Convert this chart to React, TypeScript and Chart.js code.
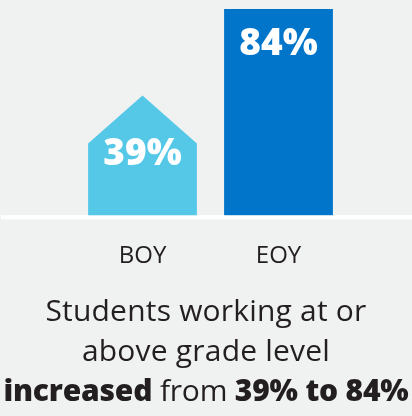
import React, { useEffect, useRef } from "react";
import { Chart, registerables } from "chart.js";

Chart.register(...registerables);

const categories = ["BOY", "EOY"];
const values = [39, 84];
const barColors = ["#55c8e8", "#0075c9"];
const captionLine1 = "Students working at or";
const captionLine2 = "above grade level";
const captionBold1 = "increased";
const captionMid = " from ";
const captionBold2 = "39% to 84%";

const BG = "#f0f2f1";
const TEXT = "#231f20";
const FONT = "'Open Sans', 'DejaVu Sans', sans-serif";

const housePlugin = {
  id: "houseBars",
  beforeDatasetsDraw(chart: any) {
    const { ctx, chartArea } = chart;
    ctx.save();
    ctx.fillStyle = "#ffffff";
    ctx.fillRect(1, chartArea.bottom, chart.width - 1, 4);
    ctx.restore();
  },
  afterDatasetsDraw(chart: any) {
    const { ctx } = chart;
    const meta = chart.getDatasetMeta(0);
    meta.data.forEach((bar: any, i: number) => {
      const { x, y, base, width } = bar.getProps(["x", "y", "base", "width"], true);
      const left = x - width / 2;
      const right = x + width / 2;
      ctx.save();
      ctx.fillStyle = barColors[i];
      if (i === 0) {
        const h = width * 0.22;
        ctx.beginPath();
        ctx.moveTo(left, base);
        ctx.lineTo(left, y + h);
        ctx.lineTo(x, y - h);
        ctx.lineTo(right, y + h);
        ctx.lineTo(right, base);
        ctx.closePath();
        ctx.fill();
      } else {
        ctx.fillRect(left, y, width, base - y);
      }
      ctx.fillStyle = "#ffffff";
      ctx.font = `800 37px ${FONT}`;
      ctx.textAlign = "center";
      ctx.textBaseline = "middle";
      ctx.fillText(values[i] + "%", x, y + 35);
      ctx.restore();
    });
  },
};

export default function App() {
  const ref = useRef<HTMLCanvasElement | null>(null);
  useEffect(() => {
    if (!ref.current) return;
    const chart = new Chart(ref.current, {
      type: "bar",
      data: {
        labels: categories,
        datasets: [
          {
            data: values,
            backgroundColor: "rgba(0,0,0,0)",
            barPercentage: 0.8,
            categoryPercentage: 1,
          },
        ],
      },
      options: {
        animation: false,
        responsive: false,
        maintainAspectRatio: false,
        layout: { padding: { top: 9, left: 74.5, right: 65.5, bottom: 0 } },
        plugins: { legend: { display: false }, tooltip: { enabled: false } },
        scales: {
          x: {
            grid: { display: false, drawTicks: false },
            border: { display: false },
            ticks: { color: TEXT, font: { family: FONT, size: 24 }, padding: 27 },
          },
          y: { display: false, min: 0, max: 84 },
        },
      },
      plugins: [housePlugin],
    });
    return () => chart.destroy();
  }, []);

  return (
    <div
      style={{
        position: "fixed",
        left: 0,
        top: 0,
        width: 412,
        height: 416,
        background: BG,
        overflow: "hidden",
      }}
    >
      <canvas ref={ref} width={412} height={298} style={{ display: "block", width: 412, height: 298 }} />
      <div
        style={{
          position: "absolute",
          left: 0,
          top: 290,
          width: 412,
          textAlign: "center",
          fontFamily: FONT,
          fontSize: 30,
          lineHeight: "40px",
          letterSpacing: "0.2px",
          color: TEXT,
          whiteSpace: "nowrap",
        }}
      >
        <div>{captionLine1}</div>
        <div>{captionLine2}</div>
        <div style={{ letterSpacing: "-0.2px" }}>
          <b style={{ fontWeight: 800 }}>{captionBold1}</b>
          {captionMid}
          <b style={{ fontWeight: 800 }}>{captionBold2}</b>
        </div>
      </div>
    </div>
  );
}
